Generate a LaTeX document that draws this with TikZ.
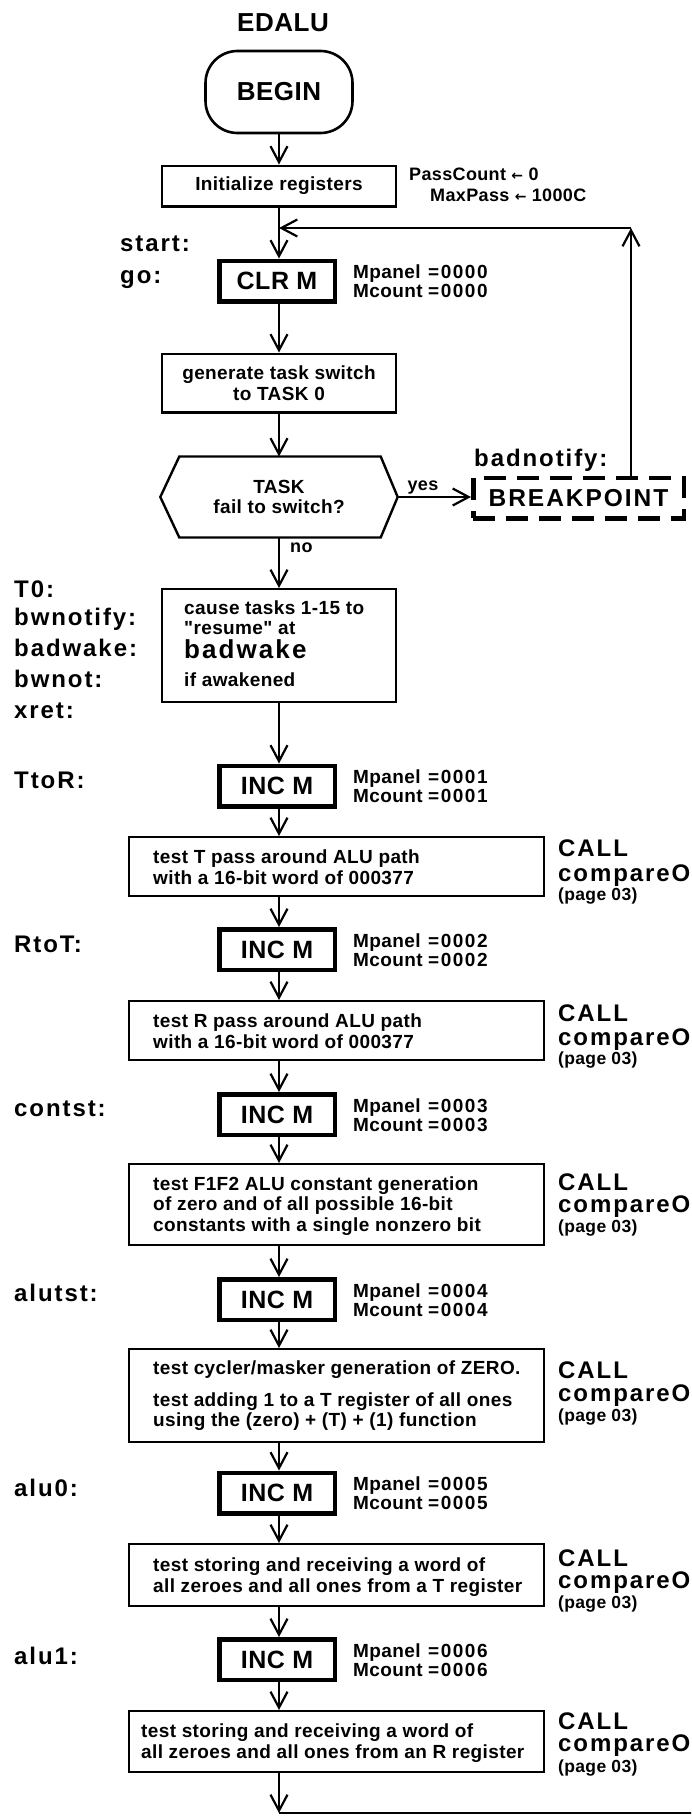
\documentclass[tikz,border=0pt]{standalone}
\usepackage{fontspec}
\setmainfont{Liberation Sans}[LetterSpace=2]
\newfontfamily\spaced{Liberation Sans}[LetterSpace=8]
\newfontfamily\rawfont{Liberation Sans}[LetterSpace=2,Ligatures=TeXOff]
\newfontfamily\symfont{DejaVu Sans}
\usetikzlibrary{arrows.meta}
\newcommand\setfs[1]{\fontsize{#1}{#1}\selectfont}
\newcommand\bodyfont{\fontsize{19}{20.5}\selectfont\bfseries}
% register read-out beside an INC M / CLR M box
\newcommand\regpair[3]{%
  \node[regf, anchor=mid west] (#1-p) at (352,#2-5) {\makebox[75pt][l]{Mpanel}{\spaced =#3}};
  \node[regf, anchor=mid west] (#1-c) at (352,#2+14) {\makebox[75pt][l]{Mcount}{\spaced =#3}};}
% subroutine call note to the right of a test box
\newcommand\callnote[4]{%
  \node[callf, anchor=base west] (#1-call) at (557,#2) {CALL};
  \node[callf, anchor=base west] (#1-cmp) at (557,#3) {compareO};
  \node[pagef, anchor=base west] (#1-page) at (557,#4) {(page 03)};}
\begin{document}
\begin{tikzpicture}[x=1pt,y=-1pt,line width=2.4pt,
  every node/.style={inner sep=0pt},
  arr/.style={-{Straight Barb[length=16pt,width=17pt,line width=2.2pt]}},
  box/.style={draw,line width=2.4pt},
  mbox/.style={draw,line width=4.5pt,minimum width=115.5pt,minimum height=40.5pt,
    font=\setfs{25}\bfseries},
  wide/.style={box,minimum width=414.6pt},
  body/.style={font=\bodyfont,align=left},
  lbl/.style={anchor=mid west,font=\spaced\setfs{24}\bfseries},
  regf/.style={font=\setfs{19}\bfseries},
  callf/.style={font=\spaced\setfs{24}\bfseries},
  pagef/.style={font=\setfs{17.5}\bfseries},
  small/.style={font=\setfs{18}\bfseries}]
\useasboundingbox (0,0) rectangle (691,1817);
\clip (0,0) rectangle (691,1817);
\coordinate (axis) at (279,0);

% heading and start of the routine
\node[font=\setfs{26}\bfseries, anchor=base] (title) at (283,32) {EDALU};
\node[draw, line width=2.6pt, rounded corners=32pt, minimum width=147pt,
  minimum height=82pt, font=\setfs{26}\bfseries] (begin) at (279,92) {BEGIN};
\node[box, minimum width=233.6pt, minimum height=40.6pt, font=\bodyfont]
  (init) at (279,186) {Initialize registers};
\node[small, anchor=mid west] (pass) at (408,178) {PassCount {\symfont\setfs{14}←} 0};
\node[small, anchor=mid west] (maxpass) at (429,199) {MaxPass {\symfont\setfs{14}←} 1000C};

\node[lbl] (l-start) at (119,249) {start:};
\node[lbl] (l-go) at (119,281) {go:};
\node[mbox] (clr) at (277,281) {CLR M};
\regpair{clr}{281}{0000}

\node[box, minimum width=233.6pt, minimum height=58.6pt, align=center, font=\bodyfont]
  (gen) at (279,383) {generate task switch\\to TASK 0};

% decision: did the task switch fail?
\node[minimum width=235pt, minimum height=78.6pt, align=center, font=\fontsize{19}{20}\selectfont\bfseries]
  (hex) at (279,497) {TASK\\fail to switch?};
\draw (hex.west) -- ([xshift=19pt]hex.north west) -- ([xshift=-17pt]hex.north east)
  -- (hex.east) -- ([xshift=-17pt]hex.south east) -- ([xshift=19pt]hex.south west) -- cycle;
\node[small, anchor=mid] (yes) at (423,488) {yes};
\node[small, anchor=mid west] (no) at (289,550) {no};

\node[lbl] (l-badn) at (473,464) {badnotify:};
\node[draw, dash pattern=on 22pt off 11pt, line width=4.5pt, minimum width=210.5pt,
  minimum height=40.5pt, font=\spaced\setfs{24.5}\bfseries] (brk) at (578.5,498) {BREAKPOINT};

% task setup block
\node[box, minimum width=233.6pt, minimum height=112.6pt] (cause) at (279,645.5) {};
\node[body, anchor=mid west] (cause-1) at (183,612) {cause tasks 1-15 to};
\node[body, anchor=mid west] (cause-2) at (183,632) {\rawfont "resume" at};
\node[anchor=mid west, font=\spaced\setfs{26}\bfseries] (cause-3) at (183,656) {badwake};
\node[body, anchor=mid west] (cause-4) at (183,684) {if awakened};
\node[lbl] (l-t0) at (13,595) {T0:};
\node[lbl] (l-bwnotify) at (13,623) {bwnotify:};
\node[lbl] (l-badwake) at (13,654) {badwake:};
\node[lbl] (l-bwnot) at (13,685) {bwnot:};
\node[lbl] (l-xret) at (13,716) {xret:};

% test sequence
\node[lbl] (l-ttor) at (13,786) {TtoR:};
\node[mbox] (incA) at (277,786) {INC M};
\regpair{incA}{786}{0001}
\node[wide, minimum height=58.6pt] (boxT) at (336.5,866.5) {};
\node[body, anchor=west] (boxT-t) at (152,867) {test T pass around ALU path\\with a 16-bit word of 000377};
\callnote{boxT}{856}{881}{900}

\node[lbl] (l-rtot) at (13,950) {RtoT:};
\node[mbox] (incB) at (277,949.5) {INC M};
\regpair{incB}{949.5}{0002}
\node[wide, minimum height=58.6pt] (boxR) at (336.5,1030.5) {};
\node[body, anchor=west] (boxR-t) at (152,1031) {test R pass around ALU path\\with a 16-bit word of 000377};
\callnote{boxR}{1021}{1045}{1064}

\node[lbl] (l-contst) at (13,1114) {contst:};
\node[mbox] (incC) at (277,1114.5) {INC M};
\regpair{incC}{1114.5}{0003}
\node[wide, minimum height=80.6pt] (boxF) at (336.5,1204.5) {};
\node[body, anchor=west] (boxF-t) at (152,1206) {test F1F2 ALU constant generation\\of zero and of all possible 16-bit\\constants with a single nonzero bit};
\callnote{boxF}{1190}{1212}{1232}

\node[lbl] (l-alutst) at (13,1299) {alutst:};
\node[mbox] (incD) at (277,1299.5) {INC M};
\regpair{incD}{1299.5}{0004}
\node[wide, minimum height=92.6pt] (boxC) at (336.5,1395.5) {};
\node[body, anchor=west] (boxC-t) at (152,1396) {test cycler/masker generation of ZERO.\\[11pt]test adding 1 to a T register of all ones\\using the (zero) + (T) + (1) function};
\callnote{boxC}{1378}{1401}{1421}

\node[lbl] (l-alu0) at (13,1494) {alu0:};
\node[mbox] (incE) at (277,1493) {INC M};
\regpair{incE}{1493}{0005}
\node[wide, minimum height=61.6pt] (boxS) at (336.5,1575) {};
\node[body, anchor=west] (boxS-t) at (152,1577) {test storing and receiving a word of\\all zeroes and all ones from a T register};
\callnote{boxS}{1566}{1588}{1608}

\node[lbl] (l-alu1) at (13,1662) {alu1:};
\node[mbox] (incF) at (277,1659.5) {INC M};
\regpair{incF}{1659.5}{0006}
\node[wide, minimum height=60.6pt] (boxS2) at (336.5,1741.5) {};
\node[body, anchor=west] (boxS2-t) at (140,1743) {test storing and receiving a word of\\all zeroes and all ones from an R register};
\callnote{boxS2}{1729}{1751}{1772}

% flow lines
\coordinate (loopc) at (631,228);
\coordinate (join) at (279,228);
\coordinate (endc) at (279,1813);
\coordinate (exitc) at (700,1813);
\draw[arr] (begin.south) -- (init.north);
\draw[arr] (init.south) -- (clr.north -| axis);
\draw[arr] (clr.south -| axis) -- (gen.north);
\draw[arr] (gen.south) -- (hex.north);
\draw[arr] (hex.east) -- (hex.east -| brk.west);
\draw[arr] (brk.north -| loopc) -- (loopc);
\draw[arr] (loopc) -- (join);
\draw[arr] (hex.south) -- (cause.north);
\draw[arr] (cause.south) -- (incA.north -| axis);
\draw[arr] (incA.south -| axis) -- (boxT.north -| axis);
\draw[arr] (boxT.south -| axis) -- (incB.north -| axis);
\draw[arr] (incB.south -| axis) -- (boxR.north -| axis);
\draw[arr] (boxR.south -| axis) -- (incC.north -| axis);
\draw[arr] (incC.south -| axis) -- (boxF.north -| axis);
\draw[arr] (boxF.south -| axis) -- (incD.north -| axis);
\draw[arr] (incD.south -| axis) -- (boxC.north -| axis);
\draw[arr] (boxC.south -| axis) -- (incE.north -| axis);
\draw[arr] (incE.south -| axis) -- (boxS.north -| axis);
\draw[arr] (boxS.south -| axis) -- (incF.north -| axis);
\draw[arr] (incF.south -| axis) -- (boxS2.north -| axis);
\draw[arr] (boxS2.south -| axis) -- (endc);
\draw (endc) -- (exitc);
\end{tikzpicture}
\end{document}
